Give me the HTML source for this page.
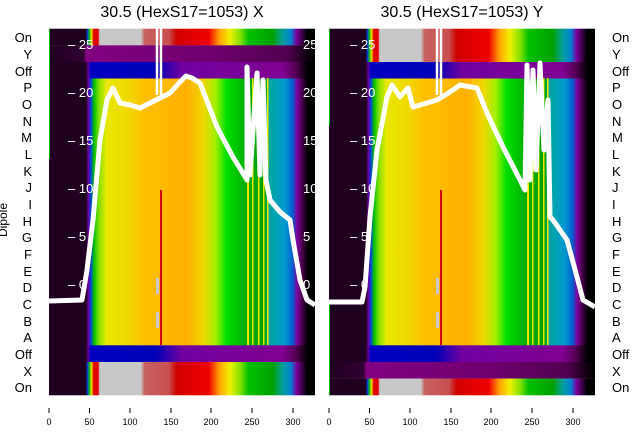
<!DOCTYPE html>
<html><head><meta charset="utf-8"><style>
html,body{margin:0;padding:0;background:#fff;width:640px;height:440px;overflow:hidden}
svg{display:block;font-family:"Liberation Sans","DejaVu Sans",sans-serif}
</style></head><body>
<svg width="640" height="440" viewBox="0 0 640 440" xmlns="http://www.w3.org/2000/svg">
<defs>
<linearGradient id="gd" x1="0" x2="1" y1="0" y2="0">
<stop offset="0" stop-color="#200020"/><stop offset=".14" stop-color="#200020"/><stop offset=".148" stop-color="#7000a0"/><stop offset=".157" stop-color="#0040e0"/><stop offset=".169" stop-color="#00c000"/><stop offset=".187" stop-color="#80e000"/><stop offset=".215" stop-color="#e8e800"/><stop offset=".3" stop-color="#f0d800"/><stop offset=".36" stop-color="#ffc000"/><stop offset=".52" stop-color="#ffb000"/><stop offset=".58" stop-color="#f0d800"/><stop offset=".627" stop-color="#a0f000"/><stop offset=".667" stop-color="#00e000"/><stop offset=".734" stop-color="#00b000"/><stop offset=".81" stop-color="#00a000"/><stop offset=".83" stop-color="#00a8a0"/><stop offset=".887" stop-color="#0098d0"/><stop offset=".915" stop-color="#0060d0"/><stop offset=".933" stop-color="#8000a0"/><stop offset=".954" stop-color="#400040"/><stop offset=".972" stop-color="#000"/><stop offset="1" stop-color="#000"/>
</linearGradient>
<linearGradient id="go" x1="0" x2="1" y1="0" y2="0">
<stop offset="0" stop-color="#200020"/><stop offset=".138" stop-color="#200020"/><stop offset=".148" stop-color="#6000a0"/><stop offset=".157" stop-color="#0000c0"/><stop offset=".4" stop-color="#0000b8"/><stop offset=".5" stop-color="#7000a0"/><stop offset=".88" stop-color="#800090"/><stop offset=".93" stop-color="#500050"/><stop offset=".97" stop-color="#000"/><stop offset="1" stop-color="#000"/>
</linearGradient>
<linearGradient id="gp" x1="0" x2="1" y1="0" y2="0">
<stop offset="0" stop-color="#200020"/><stop offset=".13" stop-color="#300030"/><stop offset=".14" stop-color="#800080"/><stop offset=".6" stop-color="#700070"/><stop offset=".9" stop-color="#500050"/><stop offset=".97" stop-color="#100010"/><stop offset="1" stop-color="#000"/>
</linearGradient>
<linearGradient id="gn" x1="0" x2="1" y1="0" y2="0">
<stop offset="0" stop-color="#200020"/><stop offset=".138" stop-color="#200020"/><stop offset=".145" stop-color="#0040e0"/><stop offset=".152" stop-color="#00c000"/><stop offset=".16" stop-color="#f0e000"/><stop offset=".168" stop-color="#e00000"/><stop offset=".185" stop-color="#e00000"/><stop offset=".19" stop-color="#c8c8c8"/><stop offset=".345" stop-color="#c8c8c8"/><stop offset=".36" stop-color="#c86060"/><stop offset=".45" stop-color="#c85050"/><stop offset=".48" stop-color="#d00000"/><stop offset=".6" stop-color="#f00000"/><stop offset=".64" stop-color="#ffa000"/><stop offset=".68" stop-color="#f0f000"/><stop offset=".72" stop-color="#80e000"/><stop offset=".75" stop-color="#00c000"/><stop offset=".84" stop-color="#00a000"/><stop offset=".88" stop-color="#00a0a0"/><stop offset=".91" stop-color="#0080d0"/><stop offset=".93" stop-color="#8000a0"/><stop offset=".97" stop-color="#000"/><stop offset="1" stop-color="#000"/>
</linearGradient>
</defs>

<!-- Left panel -->
<g>
<rect x="49" y="28.7" width="266" height="16.7" fill="url(#gn)"/>
<rect x="49" y="45.3" width="266" height="16.7" fill="url(#gp)"/>
<rect x="49" y="62" width="266" height="16.7" fill="url(#go)"/>
<rect x="49" y="78.5" width="266" height="267" fill="url(#gd)"/>
<rect x="49" y="345.3" width="266" height="16.7" fill="url(#go)"/>
<rect x="49" y="362" width="266" height="33.3" fill="url(#gn)"/>
<rect x="49" y="28.7" width="1" height="130" fill="#00c000"/>
<g fill="#e8e800"><rect x="247" y="78" width="2" height="267"/><rect x="252" y="78" width="1.5" height="267"/><rect x="258" y="78" width="1.5" height="267"/><rect x="263" y="78" width="1.5" height="267"/><rect x="267" y="78" width="1.5" height="267"/></g>
<rect x="160" y="190" width="2" height="155" fill="#e00000"/>
<rect x="156" y="278" width="3" height="16" fill="#c8c8c8"/><rect x="156" y="312" width="3" height="16" fill="#c8c8c8"/>
<path d="M49,301 L82,300 L87,270 L93,220 L100,140 L107,100 L113,88 L120,103 L130,105 L140,108 L150,103 L160,98 L170,93 L180,82 L186,76 L192,78 L200,83 L217,127 L233,157 L247,180 L247,67 L250,175 L257,73 L260,175 L263,80 L266,180 L270,200 L280,212 L290,220 L293,240 L300,280 L307,300 L315,305" fill="none" stroke="#fff" stroke-width="5" stroke-linejoin="round"/>
<path d="M157,95 L157,28 M161,95 L161,28" stroke="#fff" stroke-width="2.5"/>
<g fill="#fff" font-size="13"><text x="68" y="49">– 25</text><text x="68" y="97">– 20</text><text x="68" y="145">– 15</text><text x="68" y="193">– 10</text><text x="68" y="241">– 5</text><text x="68" y="289">– 0</text>
<text x="303" y="49">25</text><text x="303" y="97">20</text><text x="303" y="145">15</text><text x="303" y="193">10</text><text x="303" y="241">5</text><text x="303" y="289">0</text></g>
<rect x="315" y="28" width="14" height="370" fill="#fff"/>
</g>

<!-- Right panel -->
<g>
<rect x="329" y="28.7" width="266" height="33.3" fill="url(#gn)"/>
<rect x="329" y="62" width="266" height="16.7" fill="url(#go)"/>
<rect x="329" y="78.5" width="266" height="267" fill="url(#gd)"/>
<rect x="329" y="345.3" width="266" height="16.7" fill="url(#go)"/>
<rect x="329" y="362" width="266" height="16.7" fill="url(#gp)"/>
<rect x="329" y="378.6" width="266" height="16.7" fill="url(#gn)"/>
<rect x="329" y="28.7" width="1" height="97" fill="#00c000"/>
<rect x="329" y="300" width="1" height="95" fill="#00c000"/>
<g fill="#e8e800"><rect x="527" y="78" width="2" height="267"/><rect x="532" y="78" width="1.5" height="267"/><rect x="538" y="78" width="1.5" height="267"/><rect x="543" y="78" width="1.5" height="267"/><rect x="547" y="78" width="1.5" height="267"/></g>
<rect x="440" y="190" width="2" height="155" fill="#e00000"/>
<rect x="436" y="278" width="3" height="16" fill="#c8c8c8"/><rect x="436" y="312" width="3" height="16" fill="#c8c8c8"/>
<path d="M329,302 L362,302 L365,287 L370,217 L377,150 L387,97 L392,85 L400,97 L408,88 L413,107 L427,103 L437,100 L453,90 L460,85 L477,88 L487,113 L503,147 L520,180 L525,190 L527,65 L530,180 L533,70 L536,170 L540,63 L544,150 L548,100 L550,217 L553,220 L567,240 L577,277 L583,300 L595,307" fill="none" stroke="#fff" stroke-width="5" stroke-linejoin="round"/>
<path d="M437,95 L437,28 M441,95 L441,28" stroke="#fff" stroke-width="2.5"/>
<g fill="#fff" font-size="13"><text x="350" y="49">– 25</text><text x="350" y="97">– 20</text><text x="350" y="145">– 15</text><text x="350" y="193">– 10</text><text x="350" y="241">– 5</text><text x="350" y="289">– 0</text></g>
</g>

<!-- Titles -->
<text x="182" y="17" font-size="16" text-anchor="middle" fill="#000">30.5 (HexS17=1053) X</text>
<text x="462" y="17" font-size="16" text-anchor="middle" fill="#000">30.5 (HexS17=1053) Y</text>

<!-- Row labels -->
<g font-size="13" fill="#000" text-anchor="end">
<text x="32" y="42">On</text><text x="32" y="59">Y</text><text x="32" y="76">Off</text><text x="32" y="92">P</text><text x="32" y="109">O</text><text x="32" y="126">N</text><text x="32" y="142">M</text><text x="32" y="159">L</text><text x="32" y="176">K</text><text x="32" y="192">J</text><text x="32" y="209">I</text><text x="32" y="226">H</text><text x="32" y="242">G</text><text x="32" y="259">F</text><text x="32" y="276">E</text><text x="32" y="292">D</text><text x="32" y="309">C</text><text x="32" y="326">B</text><text x="32" y="342">A</text><text x="32" y="359">Off</text><text x="32" y="376">X</text><text x="32" y="392">On</text>
</g>
<g font-size="13" fill="#000">
<text x="612" y="42">On</text><text x="612" y="59">Y</text><text x="612" y="76">Off</text><text x="612" y="92">P</text><text x="612" y="109">O</text><text x="612" y="126">N</text><text x="612" y="142">M</text><text x="612" y="159">L</text><text x="612" y="176">K</text><text x="612" y="192">J</text><text x="612" y="209">I</text><text x="612" y="226">H</text><text x="612" y="242">G</text><text x="612" y="259">F</text><text x="612" y="276">E</text><text x="612" y="292">D</text><text x="612" y="309">C</text><text x="612" y="326">B</text><text x="612" y="342">A</text><text x="612" y="359">Off</text><text x="612" y="376">X</text><text x="612" y="392">On</text>
</g>
<text transform="translate(7,220) rotate(-90)" font-size="12" text-anchor="middle" fill="#000">Dipole</text>

<!-- X ticks -->
<g stroke="#000" stroke-width="1">
<path d="M49,408v5M89.5,408v5M130,408v5M171,408v5M211,408v5M252,408v5M293,408v5"/>
<path d="M329,408v5M369.5,408v5M410,408v5M451,408v5M491,408v5M532,408v5M573,408v5"/>
</g>
<g font-size="9" fill="#000" text-anchor="middle">
<text x="49" y="425">0</text><text x="89.5" y="425">50</text><text x="130" y="425">100</text><text x="171" y="425">150</text><text x="211" y="425">200</text><text x="252" y="425">250</text><text x="293" y="425">300</text>
<text x="329" y="425">0</text><text x="369.5" y="425">50</text><text x="410" y="425">100</text><text x="451" y="425">150</text><text x="491" y="425">200</text><text x="532" y="425">250</text><text x="573" y="425">300</text>
</g>
</svg>
</body></html>
